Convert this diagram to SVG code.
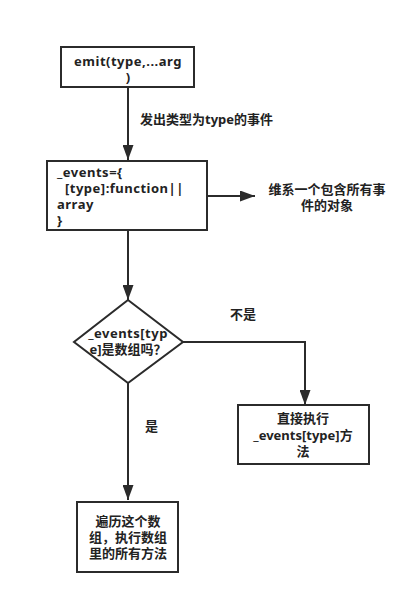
<svg xmlns="http://www.w3.org/2000/svg" width="420" height="604" viewBox="0 0 420 604">
<defs>
<style>
.box{fill:#fff;stroke:#2b2b2b;stroke-width:2}
.ln{fill:none;stroke:#2b2b2b;stroke-width:2}
text{font-family:"Noto Sans","Noto Sans CJK SC",sans-serif;font-weight:bold;font-size:13px;fill:#222}
.c{text-anchor:middle}
.w{letter-spacing:0.5px}
.cjk{font-family:"Noto Sans CJK SC",sans-serif}
</style>
<marker id="ah" viewBox="0 0 10 10" refX="10" refY="5" markerWidth="15" markerHeight="11" markerUnits="userSpaceOnUse" orient="auto" preserveAspectRatio="none">
<path d="M0,0 L10,5 L0,10 z" fill="#2b2b2b"/>
</marker>
</defs>
<rect width="420" height="604" fill="#fff"/>
<g id="connectors">
<path class="ln" d="M128,87 V160" marker-end="url(#ah)"/>
<path class="ln" d="M207,196 H255" marker-end="url(#ah)"/>
<path class="ln" d="M128,230 V300" marker-end="url(#ah)"/>
<path class="ln" d="M183,342 H305 V405" marker-end="url(#ah)"/>
<path class="ln" d="M128,383 V500" marker-end="url(#ah)"/>
<text x="140" y="124">发出类型为type的事件</text>
<text x="230" y="319">不是</text>
<text x="145" y="431">是</text>
</g>
<g id="emit">
<rect class="box" x="61" y="47" width="133" height="40"/>
<text class="c w" x="128" y="66">emit(type,...arg</text>
<text class="c" x="128" y="82">)</text>
</g>
<g id="events">
<rect class="box" x="47" y="161" width="160" height="69"/>
<text class="w" x="57" y="177">_events={</text>
<text class="w" x="65" y="193">[type]:function||</text>
<text class="w" x="57" y="209">array</text>
<text x="57" y="225">}</text>
</g>
<g id="note">
<text class="c" x="327" y="194">维系一个包含所有事</text>
<text class="c" x="327" y="210">件的对象</text>
</g>
<g id="decision">
<polygon class="box" points="128,300 183,342 128,383 74,342"/>
<text class="c w" x="128" y="338">_events[typ</text>
<text class="c" x="128" y="354">e]是数组吗<tspan class="cjk">？</tspan></text>
</g>
<g id="direct">
<rect class="box" x="238" y="405" width="131" height="59"/>
<text class="c" x="303" y="423">直接执行</text>
<text class="c" x="303" y="440">_events[type]方</text>
<text class="c" x="303" y="456">法</text>
</g>
<g id="loop">
<rect class="box" x="77" y="502" width="101" height="70"/>
<text class="c" x="128" y="526">遍历这个数</text>
<text class="c" x="128" y="542">组<tspan class="cjk">，</tspan>执行数组</text>
<text class="c" x="128" y="558">里的所有方法</text>
</g>
</svg>
